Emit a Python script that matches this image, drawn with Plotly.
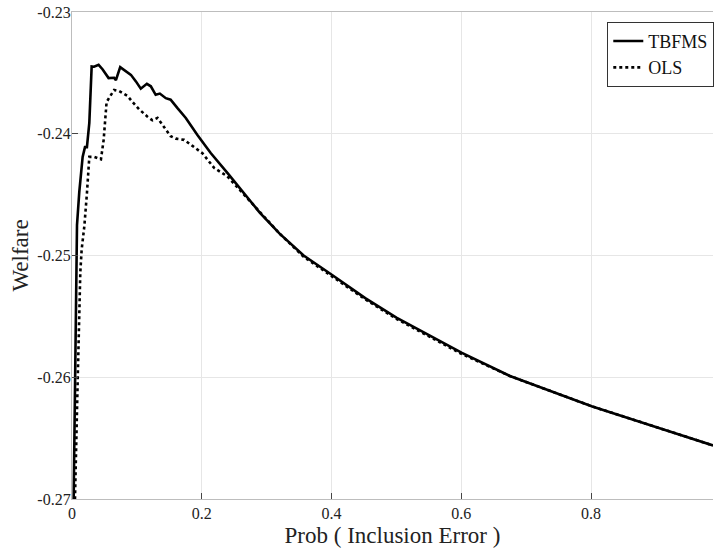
import plotly.graph_objects as go

# Data
tbfms_x = [0.0022, 0.0026, 0.0046, 0.0077, 0.0112, 0.0164, 0.020, 0.023, 0.0267, 0.0303,
           0.034, 0.041, 0.047, 0.0564, 0.065, 0.0677, 0.0743, 0.083, 0.0908, 0.0985,
           0.106, 0.1154, 0.1215, 0.129, 0.1354, 0.1446, 0.152, 0.1626, 0.1754, 0.1933,
           0.2138, 0.2395, 0.2626, 0.2897, 0.320, 0.357, 0.401, 0.452, 0.500, 0.568,
           0.601, 0.675, 0.740, 0.802, 0.901, 0.988]
tbfms_y = [-0.2715, -0.2700, -0.2602, -0.2475, -0.2448, -0.2419, -0.2411, -0.2411, -0.2391, -0.23448,
           -0.2345, -0.23434, -0.2347, -0.23543, -0.2354, -0.2356, -0.23453, -0.2349, -0.23516, -0.2357,
           -0.2363, -0.2359, -0.2361, -0.2368, -0.2367, -0.23708, -0.2372, -0.2379, -0.2387, -0.2401,
           -0.24158, -0.24322, -0.24473, -0.2465, -0.2482, -0.2500, -0.2516, -0.2535, -0.2551, -0.2571,
           -0.2580, -0.2599, -0.2612, -0.2624, -0.2641, -0.2656]

ols_x = [0.0035, 0.0046, 0.0088, 0.0128, 0.0149, 0.019, 0.023, 0.0267, 0.0343, 0.0446,
         0.0488, 0.0533, 0.059, 0.065, 0.0728, 0.0856, 0.0933, 0.1036, 0.1164, 0.124,
         0.1318, 0.1395, 0.152, 0.16, 0.1728, 0.1857, 0.201, 0.219, 0.2395, 0.26,
         0.2857, 0.320, 0.357, 0.401, 0.452, 0.500, 0.568, 0.601, 0.675, 0.740,
         0.802, 0.901, 0.988]
ols_y = [-0.2715, -0.2700, -0.2602, -0.2514, -0.2495, -0.2476, -0.2449, -0.2419, -0.2419, -0.2421,
         -0.2405, -0.2374, -0.2369, -0.2364, -0.2365, -0.2369, -0.2374, -0.2380, -0.2386, -0.2389,
         -0.2387, -0.2393, -0.2402, -0.2404, -0.2405, -0.2410, -0.2416, -0.2428, -0.2435, -0.2447,
         -0.2462, -0.2482, -0.2501, -0.2517, -0.2536, -0.2552, -0.2572, -0.2581, -0.2599, -0.2612,
         -0.2624, -0.2641, -0.2656]

x_ticks = [0, 0.2, 0.4, 0.6, 0.8]
x_tick_labels = ["0", "0.2", "0.4", "0.6", "0.8"]
y_ticks = [-0.27, -0.26, -0.25, -0.24, -0.23]
y_tick_labels = ["-0.27", "-0.26", "-0.25", "-0.24", "-0.23"]

FONT = "Liberation Serif"

fig = go.Figure()
fig.add_trace(go.Scatter(x=tbfms_x, y=tbfms_y, mode="lines", name="TBFMS",
                         line=dict(color="black", width=2.6)))
fig.add_trace(go.Scatter(x=ols_x, y=ols_y, mode="lines", name="OLS",
                         line=dict(color="black", width=2.6, dash="dot")))

axis_common = dict(showgrid=True, gridcolor="#e6e6e6", gridwidth=1, zeroline=False,
                   showline=True, linecolor="#bdbdbd", linewidth=1.2,
                   ticks="inside", ticklen=6, tickcolor="#444444",
                   automargin=False, ticklabeloverflow="allow",
                   tickfont=dict(family=FONT, size=16, color="#222222"))

fig.update_xaxes(range=[0, 0.988], tickvals=x_ticks, ticktext=x_tick_labels,
                 mirror=True,
                 title=dict(text="Prob ( Inclusion Error )", font=dict(family=FONT, size=23, color="#222222"),
                            standoff=5),
                 **axis_common)
fig.update_yaxes(range=[-0.27, -0.23], tickvals=y_ticks, ticktext=y_tick_labels,
                 ticklabelstandoff=-3,
                 title=dict(text="Welfare", font=dict(family=FONT, size=23, color="#222222"),
                            standoff=2),
                 **axis_common)

fig.update_layout(
    width=716, height=549,
    margin=dict(l=72, r=3, t=12, b=50, autoexpand=False),
    paper_bgcolor="white", plot_bgcolor="white",
    font=dict(family=FONT, color="#222222"),
    showlegend=True,
    legend=dict(x=1.002, y=0.98, xanchor="right", yanchor="top",
                bgcolor="white", bordercolor="#333333", borderwidth=1,
                font=dict(family=FONT, size=18, color="#111111"),
                tracegroupgap=0, itemwidth=30),
)

# remove the browser's default 8px body margin so the figure fills the window
fig.write_html("out.html",
               config={"displayModeBar": False},
               post_script="document.body.style.margin='0px';document.body.style.overflow='hidden';")
